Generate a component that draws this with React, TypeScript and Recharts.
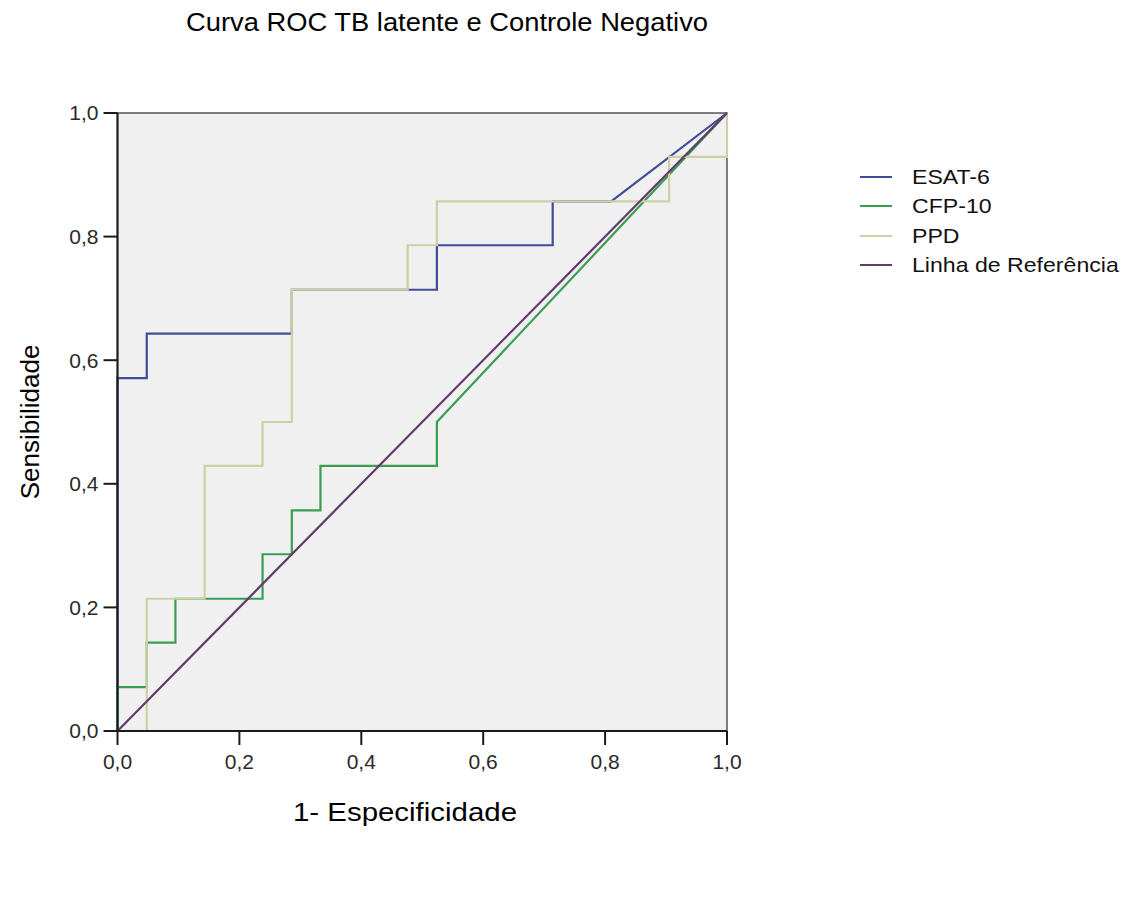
import React from 'react'
import {
  LineChart,
  Line,
  XAxis,
  YAxis,
  ReferenceArea,
  Legend,
} from 'recharts'

// ROC coordinates (x = 1 - especificidade, y = sensibilidade)
const esatX = [0, 0, 0.048, 0.048, 0.286, 0.286, 0.524, 0.524, 0.714, 0.714, 0.81, 1]
const esatY = [0, 0.571, 0.571, 0.643, 0.643, 0.714, 0.714, 0.786, 0.786, 0.857, 0.857, 1]

const cfpX = [0, 0, 0.048, 0.048, 0.095, 0.095, 0.238, 0.238, 0.286, 0.286, 0.333, 0.333, 0.524, 0.524, 1]
const cfpY = [0, 0.071, 0.071, 0.143, 0.143, 0.214, 0.214, 0.286, 0.286, 0.357, 0.357, 0.429, 0.429, 0.5, 1]

const ppdX = [0, 0.048, 0.048, 0.143, 0.143, 0.238, 0.238, 0.286, 0.286, 0.476, 0.476, 0.524, 0.524, 0.905, 0.905, 1, 1]
const ppdY = [0, 0, 0.214, 0.214, 0.429, 0.429, 0.5, 0.5, 0.714, 0.714, 0.786, 0.786, 0.857, 0.857, 0.929, 0.929, 1]

const refX = [0, 1]
const refY = [0, 1]

const axisTicks = [0, 0.2, 0.4, 0.6, 0.8, 1]

const seriesNames = ['ESAT-6', 'CFP-10', 'PPD', 'Linha de Referência']
const seriesColors = ['#3f4c98', '#3a9e52', '#d0cea4', '#633a6c']

const FONT = '"Liberation Sans", Arial, Helvetica, sans-serif'

const toPoints = (xs: number[], ys: number[]) => xs.map((x, i) => ({ x, y: ys[i] }))

const series = [
  toPoints(esatX, esatY),
  toPoints(cfpX, cfpY),
  toPoints(ppdX, ppdY),
  toPoints(refX, refY),
]

const fmt = (v: number) => v.toFixed(1).replace('.', ',')

// the source image is a bit wider than its fonts, so text gets stretched horizontally
function LegendBox() {
  return (
    <div style={{ fontFamily: FONT, fontSize: 21, color: '#111' }}>
      {seriesNames.map((name, i) => (
        <div key={name} style={{ height: 29.5, display: 'flex', alignItems: 'center' }}>
          <span
            style={{
              display: 'inline-block',
              width: 32,
              height: 2,
              background: seriesColors[i],
              marginRight: 20,
            }}
          />
          <span style={{ display: 'inline-block', transform: 'scaleX(1.1)', transformOrigin: 'left center' }}>
            {name}
          </span>
        </div>
      ))}
    </div>
  )
}

export default function App() {
  return (
    <div style={{ position: 'relative', width: 1114, height: 884 }}>
      <LineChart
        width={1114}
        height={884}
        margin={{ top: 105, right: 395, bottom: 121, left: 20 }}
      >
        <XAxis
          type="number"
          dataKey="x"
          domain={[0, 1]}
          ticks={axisTicks}
          tickFormatter={fmt}
          height={40}
          tickSize={14}
          tickMargin={9}
          axisLine={{ stroke: '#1a1a1a', strokeWidth: 2 }}
          tickLine={{ stroke: '#1a1a1a', strokeWidth: 2 }}
          tick={{ fill: '#2a2a2a', fontSize: 21, fontFamily: FONT }}
        />
        <YAxis
          type="number"
          dataKey="y"
          domain={[0, 1]}
          ticks={axisTicks}
          tickFormatter={fmt}
          width={89.5}
          tickSize={14}
          tickMargin={5}
          axisLine={{ stroke: '#1a1a1a', strokeWidth: 2 }}
          tickLine={{ stroke: '#1a1a1a', strokeWidth: 2 }}
          tick={{ fill: '#2a2a2a', fontSize: 21, fontFamily: FONT }}
        />
        <ReferenceArea
          x1={0}
          x2={1}
          y1={0}
          y2={1}
          fill="#f0f0f0"
          fillOpacity={1}
          stroke="#555"
          strokeWidth={1.5}
        />
        {series.map((pts, i) => (
          <Line
            key={seriesNames[i]}
            data={pts}
            dataKey="y"
            name={seriesNames[i]}
            type="linear"
            stroke={seriesColors[i]}
            strokeWidth={2.2}
            dot={false}
            activeDot={false}
            isAnimationActive={false}
          />
        ))}
        <Legend
          layout="vertical"
          align="center"
          verticalAlign="middle"
          wrapperStyle={{ left: 852, top: 154, width: 262 }}
          content={() => <LegendBox />}
        />
      </LineChart>
      <svg
        width={1114}
        height={884}
        style={{ position: 'absolute', left: 0, top: 0, pointerEvents: 'none' }}
        fontFamily={FONT}
      >
        <text x={178} y={23} fontSize={25} fill="#000" textLength={522} lengthAdjust="spacingAndGlyphs">
          Curva ROC TB latente e Controle Negativo
        </text>
        <text x={285} y={813} fontSize={25} fill="#000" textLength={224} lengthAdjust="spacingAndGlyphs">
          1- Especificidade
        </text>
        <text
          x={22}
          y={414}
          fontSize={26}
          fill="#000"
          textAnchor="middle"
          dominantBaseline="central"
          transform="rotate(-90 22 414)"
        >
          Sensibilidade
        </text>
      </svg>
    </div>
  )
}
